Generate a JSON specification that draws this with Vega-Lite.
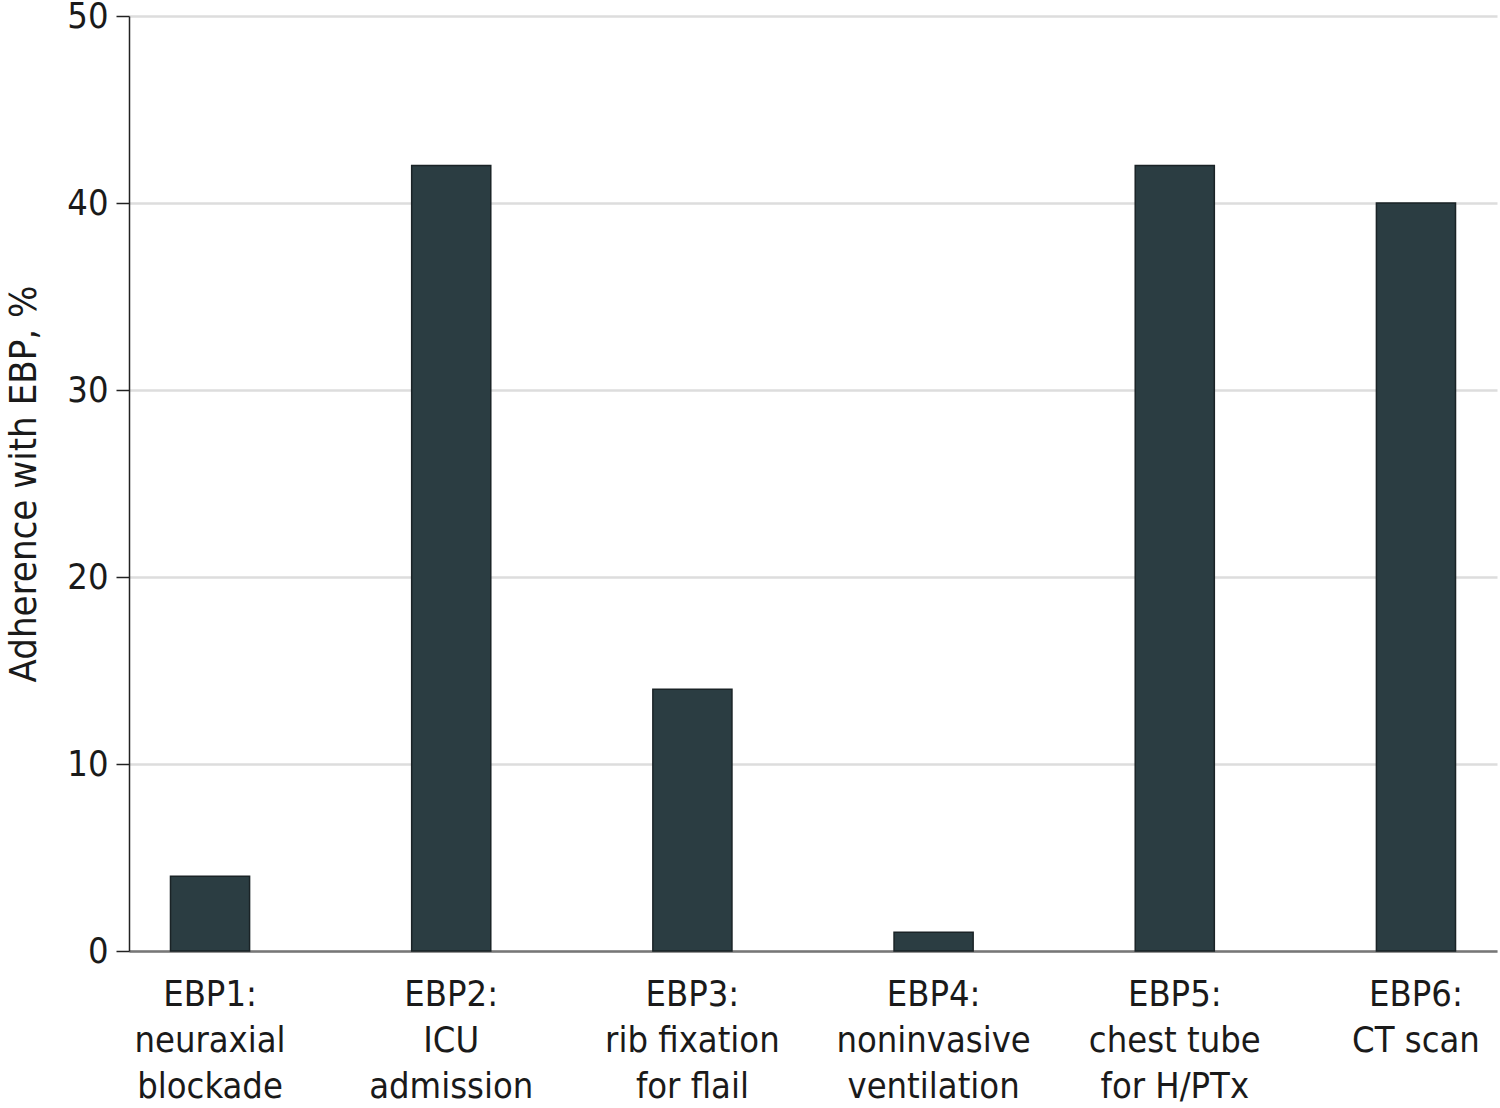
{
  "$schema": "https://vega.github.io/schema/vega-lite/v6.json",
  "autosize": {"type": "none"},
  "width": 1368,
  "height": 935,
  "padding": {"left": 129, "top": 16, "right": 3, "bottom": 157},
  "background": "white",
  "config": {"view": {"stroke": null}, "font": "DejaVu Sans Condensed"},
  "data": {"values": [
    {"ebp": "EBP1:|neuraxial|blockade", "pct": 4},
    {"ebp": "EBP2:|ICU|admission", "pct": 42},
    {"ebp": "EBP3:|rib fixation|for flail", "pct": 14},
    {"ebp": "EBP4:|noninvasive|ventilation", "pct": 1},
    {"ebp": "EBP5:|chest tube|for H/PTx", "pct": 42},
    {"ebp": "EBP6:|CT scan", "pct": 40}
  ]},
  "mark": {"type": "bar", "color": "#2b3d42", "stroke": "#1a2326", "strokeWidth": 1.5},
  "encoding": {
    "x": {
      "field": "ebp", "type": "nominal", "sort": null,
      "scale": {"paddingInner": 0.672, "paddingOuter": 0.172},
      "axis": {
        "title": null, "labelAngle": 0, "ticks": false,
        "labelExpr": "split(datum.label, '|')",
        "labelLimit": 400, "labelOverlap": false,
        "labelFont": "DejaVu Sans Condensed", "labelFontSize": 36, "labelColor": "#1a1a1a",
        "labelLineHeight": 46, "labelPadding": 26, "labelBaseline": "top",
        "domainColor": "#777777", "domainWidth": 2.5
      }
    },
    "y": {
      "field": "pct", "type": "quantitative",
      "scale": {"domain": [0, 50], "nice": false},
      "axis": {
        "title": "Adherence with EBP, %", "values": [0, 10, 20, 30, 40, 50],
        "titleFont": "DejaVu Sans Condensed", "titleFontSize": 38, "titleFontWeight": "normal", "titleColor": "#1a1a1a",
        "titlePadding": 23,
        "labelFont": "DejaVu Sans Condensed", "labelFontSize": 36, "labelColor": "#1a1a1a", "labelPadding": 8,
        "tickSize": 13, "tickColor": "#222222", "tickWidth": 1.5,
        "domainColor": "#222222", "domainWidth": 1.5,
        "grid": true, "gridColor": "#dddddd", "gridWidth": 2.5
      }
    }
  }
}
